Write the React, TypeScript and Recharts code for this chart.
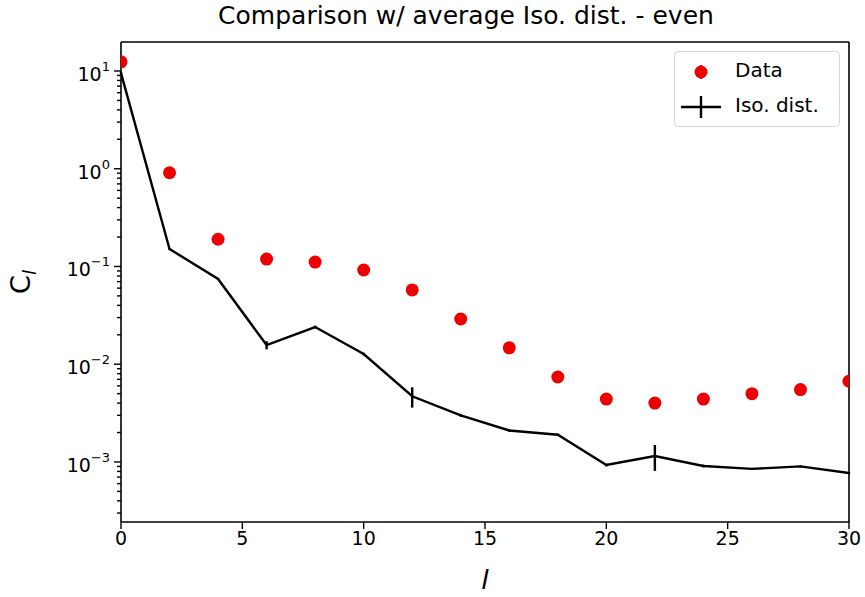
import React from "react"
import { ComposedChart, Line, XAxis, YAxis, ErrorBar, ReferenceLine } from "recharts"

// multipole l
const ELLS = [0, 2, 4, 6, 8, 10, 12, 14, 16, 18, 20, 22, 24, 26, 28, 30]
// measured C_l
const DATA_CL = [12.4, 0.91, 0.19, 0.119, 0.111, 0.092, 0.0575, 0.029, 0.0147, 0.0074, 0.0044, 0.004, 0.0044, 0.005, 0.0055, 0.0067]
// average isotropic distribution
const ISO_CL = [9.5, 0.151, 0.0745, 0.0157, 0.024, 0.0127, 0.0047, 0.003, 0.0021, 0.0019, 0.00093, 0.00115, 0.00091, 0.00085, 0.0009, 0.00077]
const ISO_ERR = [0.3, 0.004, 0.002, 0.0015, 0.0008, 0.0004, 0.0011, 0.0001, 0.00006, 0.00005, 0.00003, 0.00034, 0.00003, 0.00002, 0.00002, 0.00002]

const X_TICKS = [0, 5, 10, 15, 20, 25, 30]
const Y_MAJOR = [1e-3, 1e-2, 1e-1, 1, 10]
const Y_MINOR_FACTORS = [2, 3, 4, 5, 6, 7, 8, 9]
const Y_DOMAIN = [2.43e-4, 19.8]

const FONT = "'DejaVu Sans', sans-serif"

const rows = ELLS.map((l, i) => ({ l, data: DATA_CL[i], iso: ISO_CL[i], isoErr: ISO_ERR[i] }))

const yTicks: number[] = []
;[1e-4, ...Y_MAJOR].forEach((m) => {
    yTicks.push(m)
    Y_MINOR_FACTORS.forEach((f) => yTicks.push(m * f))
})
const Y_TICKS = yTicks.filter((v) => v >= Y_DOMAIN[0] && v <= Y_DOMAIN[1])

const isMajor = (v: number) => Y_MAJOR.some((m) => Math.abs(m - v) / m < 1e-6)

function YTick(props: any) {
    const { x, y, payload } = props
    const v = payload.value
    const major = isMajor(v)
    const axisX = x + 8
    const len = major ? 7 : 4
    const exp = Math.round(Math.log10(v))
    const expText = exp < 0 ? "\u2212" + Math.abs(exp) : String(exp)
    return (
        <g>
            <line x1={axisX - len} x2={axisX} y1={y} y2={y} stroke="#000" strokeWidth={1.4} />
            {major && (
                <text x={x - 3} y={y + 10} textAnchor="end" fontSize={19} fill="#000" fontFamily={FONT}>
                    <tspan>10</tspan>
                    <tspan dy={-10} fontSize={13}>{expText}</tspan>
                </text>
            )}
        </g>
    )
}

function RedDot(props: any) {
    const { cx, cy } = props
    if (cx == null || cy == null) return null
    return <circle cx={cx} cy={cy} r={6.5} fill="#ee0000" />
}

function YLabel(props: any) {
    const vb = props.viewBox || {}
    const cy = (vb.y ?? 42) + (vb.height ?? 480) / 2
    return (
        <text x={30} y={cy} transform={`rotate(-90, 30, ${cy})`} textAnchor="middle" fontSize={27} fill="#000" fontFamily={FONT}>
            <tspan>C</tspan>
            <tspan dy={6} fontSize={18} fontStyle="italic">l</tspan>
        </text>
    )
}

export default function App() {
    return (
        <div style={{ position: "absolute", left: 0, top: 0, width: 865, height: 597, background: "#fff", fontFamily: FONT }}>
            <div style={{ position: "absolute", left: 0, top: 1, width: 932, textAlign: "center", fontSize: 25, color: "#000" }}>
                Comparison w/ average Iso. dist. - even
            </div>
            <ComposedChart width={865} height={597} data={rows} margin={{ top: 42, right: 16, bottom: 0, left: 0 }}>
                <XAxis
                    dataKey="l"
                    type="number"
                    domain={[0, 30]}
                    ticks={X_TICKS}
                    allowDataOverflow
                    height={75}
                    stroke="#000"
                    axisLine={{ stroke: "#000", strokeWidth: 1.6 }}
                    tickLine={{ stroke: "#000", strokeWidth: 1.4 }}
                    tickSize={7}
                    tickMargin={3}
                    tick={{ fill: "#000", fontSize: 19, fontFamily: FONT }}
                    label={{ value: "l", position: "insideBottom", offset: 8, fontSize: 27, fontStyle: "italic", fill: "#000", fontFamily: FONT }}
                />
                <YAxis
                    type="number"
                    scale="log"
                    domain={Y_DOMAIN}
                    allowDataOverflow
                    ticks={Y_TICKS}
                    interval={0}
                    width={121}
                    tickSize={6}
                    tickMargin={2}
                    tickLine={false}
                    axisLine={{ stroke: "#000", strokeWidth: 1.6 }}
                    tick={<YTick />}
                    label={<YLabel />}
                />
                <ReferenceLine y={Y_DOMAIN[1]} stroke="#000" strokeWidth={1.6} />
                <ReferenceLine x={30} stroke="#000" strokeWidth={1.6} />
                <Line dataKey="iso" stroke="#000" strokeWidth={2.4} dot={false} isAnimationActive={false}>
                    <ErrorBar dataKey="isoErr" direction="y" width={0} stroke="#000" strokeWidth={2.4} />
                </Line>
                <Line dataKey="data" stroke="none" dot={<RedDot />} activeDot={false} isAnimationActive={false} />
            </ComposedChart>
            <div
                style={{
                    position: "absolute",
                    left: 674,
                    top: 51,
                    width: 164,
                    height: 74,
                    border: "1px solid #d8d8d8",
                    borderRadius: 4,
                    background: "rgba(255,255,255,0.8)",
                    fontSize: 20,
                    color: "#000",
                }}
            >
                <svg width={60} height={74} style={{ position: "absolute", left: 0, top: 0 }}>
                    <line x1={26} x2={26} y1={13} y2={27} stroke="#ee0000" strokeWidth={2.4} />
                    <circle cx={26} cy={20} r={6.5} fill="#ee0000" />
                    <line x1={6} x2={46} y1={55} y2={55} stroke="#000" strokeWidth={2.4} />
                    <line x1={26} x2={26} y1={44} y2={66} stroke="#000" strokeWidth={2.4} />
                </svg>
                <div style={{ position: "absolute", left: 60, top: 6 }}>Data</div>
                <div style={{ position: "absolute", left: 60, top: 41 }}>Iso. dist.</div>
            </div>
        </div>
    )
}
